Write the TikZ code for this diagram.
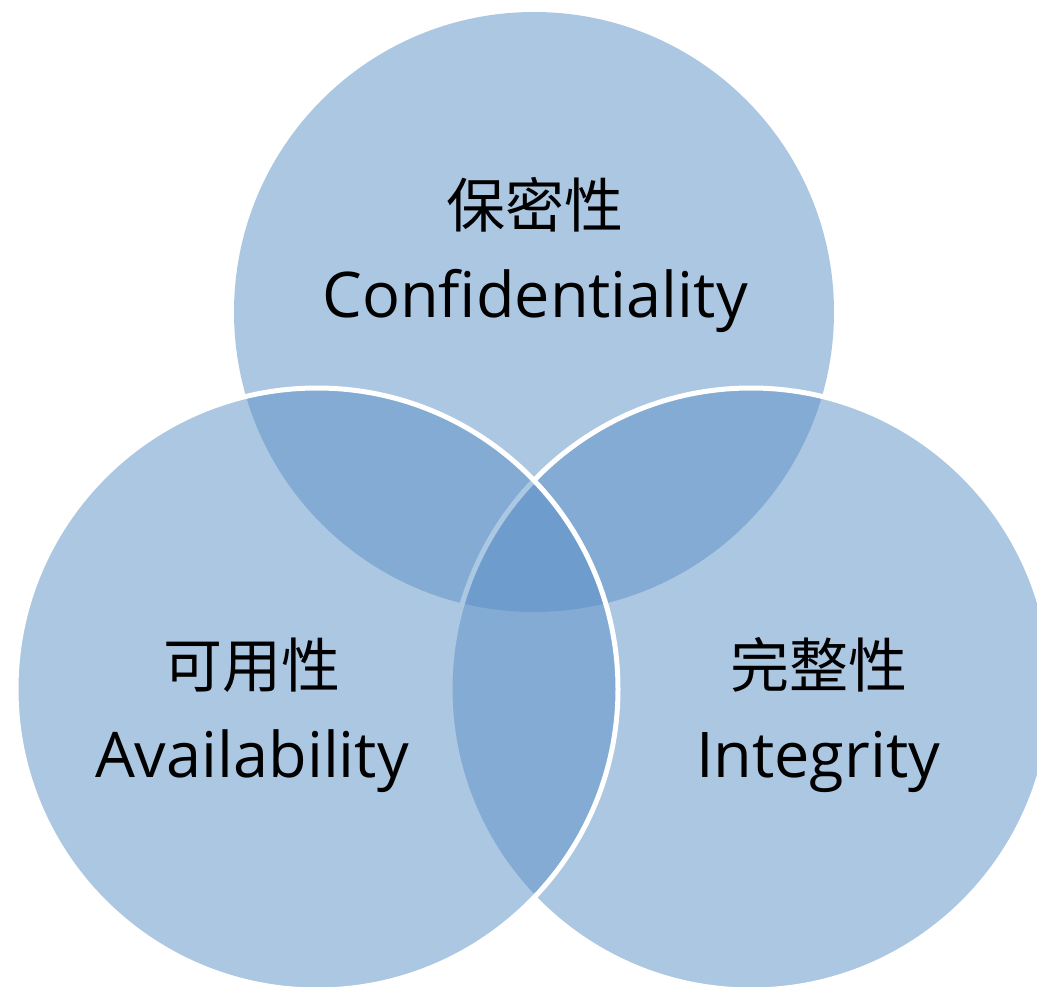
\documentclass[tikz,border=0pt]{standalone}
\usepackage{fontspec}
\setmainfont{Open Sans}
\newfontfamily\cjk{Noto Sans CJK SC}
\definecolor{venn}{RGB}{91,145,199}
\begin{document}
\begin{tikzpicture}[x=1pt,y=-1pt,
  fillc/.style={fill=venn,fill opacity=0.5},
  ring/.style={draw=white,line width=5pt},
  cn/.style={font=\cjk\fontsize{59}{64}\selectfont,inner sep=0pt,anchor=center},
  en/.style={font=\fontsize{63}{70}\selectfont,inner sep=0pt,anchor=base}]
\useasboundingbox (0,0) rectangle (1037,987);
\fill[white] (0,0) rectangle (1037,987);
% top circle
\path[fillc] (534,312) circle[radius=300];
% right circle
\path[fillc] (751,689) circle[radius=301];
\path[ring] (751,689) circle[radius=301];
% left circle
\path[fillc] (317,689) circle[radius=301];
\path[ring] (317,689) circle[radius=301];
% labels
\node[cn] (cC) at (535,205) {保密性};
\node[en] (eC) at (535,317) {Confidentiality};
\node[cn] (cA) at (252,665) {可用性};
\node[en] (eA) at (252,777) {Availability};
\node[cn] (cI) at (819,665) {完整性};
\node[en] (eI) at (818,777) {Integrity};
\end{tikzpicture}
\end{document}
